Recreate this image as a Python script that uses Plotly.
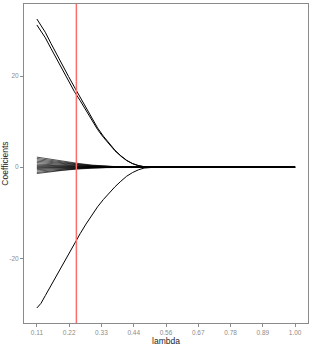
import plotly.graph_objects as go

# lambda grid for the three large coefficients
lam_big = [0.111, 0.125, 0.14, 0.16, 0.18, 0.20, 0.22, 0.24, 0.26, 0.28, 0.30,
           0.32, 0.34, 0.36, 0.38, 0.40, 0.42, 0.44, 0.46, 0.48, 0.50, 0.52, 1.0]
coef_a = [32.5, 31.2, 29.6, 27.1, 24.6, 22.3, 19.9, 17.6, 15.4, 13.1, 10.7,
          8.6, 6.8, 5.2, 3.7, 2.5, 1.5, 0.8, 0.35, 0.1, 0.02, 0.0, 0.0]
coef_b = [31.2, 29.8, 28.4, 26.0, 23.6, 21.3, 18.9, 16.6, 14.6, 12.5, 10.25,
          8.25, 6.55, 5.02, 3.58, 2.42, 1.45, 0.77, 0.34, 0.1, 0.02, 0.0, 0.0]
coef_c = [-30.9, -29.9, -28.2, -25.9, -23.6, -21.5, -19.2, -16.8, -14.6, -12.5, -10.5,
          -8.7, -7.1, -5.6, -4.3, -3.1, -2.0, -1.2, -0.6, -0.2, -0.03, 0.0, 0.0]

# lambda grid for the small coefficients
lam_small = [0.111, 0.15, 0.20, 0.25, 0.30, 0.35, 0.40, 0.45, 0.50, 1.0]
small_coefs = [
    [2.2, 1.8, 1.3, 0.85, 0.45, 0.18, 0.04, 0, 0, 0],
    [1.9, 1.55, 1.1, 0.72, 0.38, 0.15, 0.03, 0, 0, 0],
    [1.6, 1.3, 0.95, 0.6, 0.32, 0.12, 0.02, 0, 0, 0],
    [1.3, 1.05, 0.75, 0.48, 0.25, 0.1, 0.02, 0, 0, 0],
    [1.0, 0.8, 0.58, 0.37, 0.19, 0.07, 0.01, 0, 0, 0],
    [0.7, 0.56, 0.4, 0.26, 0.13, 0.05, 0.01, 0, 0, 0],
    [0.45, 0.36, 0.26, 0.17, 0.09, 0.03, 0, 0, 0, 0],
    [0.25, 0.2, 0.14, 0.09, 0.05, 0.02, 0, 0, 0, 0],
    [0.08, 0.06, 0.04, 0.03, 0.01, 0, 0, 0, 0, 0],
    [-0.1, -0.08, -0.05, -0.03, -0.02, 0, 0, 0, 0, 0],
    [-0.3, -0.23, -0.15, -0.09, -0.04, -0.01, 0, 0, 0, 0],
    [-0.55, -0.42, -0.28, -0.17, -0.08, -0.03, 0, 0, 0, 0],
    [-0.85, -0.65, -0.43, -0.26, -0.12, -0.04, 0, 0, 0, 0],
    [-1.15, -0.88, -0.58, -0.35, -0.17, -0.06, -0.01, 0, 0, 0],
    [-1.4, -1.07, -0.7, -0.42, -0.2, -0.07, -0.01, 0, 0, 0],
]

lambda_min = 0.247

x_tick_vals = [1/9, 2/9, 3/9, 4/9, 5/9, 6/9, 7/9, 8/9, 1.0]
x_tick_text = ["0.11", "0.22", "0.33", "0.44", "0.56", "0.67", "0.78", "0.89", "1.00"]
y_tick_vals = [-20, 0, 20]
y_tick_text = ["-20", "0", "20"]

fig = go.Figure()
for ys in small_coefs:
    fig.add_trace(go.Scatter(x=lam_small, y=ys, mode="lines",
                             line=dict(color="rgba(0,0,0,0.85)", width=0.8),
                             showlegend=False, hoverinfo="skip"))
for ys in (coef_a, coef_b, coef_c):
    fig.add_trace(go.Scatter(x=lam_big, y=ys, mode="lines",
                             line=dict(color="black", width=1),
                             showlegend=False, hoverinfo="skip"))

fig.add_vline(x=lambda_min, line=dict(color="#ff6e6e", width=1.5))

axis_common = dict(
    showgrid=False, zeroline=False, showline=True, linecolor="#8a8a8a", linewidth=1,
    mirror=True, ticks="outside", ticklen=3, tickcolor="#8a8a8a", tickwidth=1,
    automargin=False,
    tickfont=dict(size=6.5, color="#8c8c8c", family="Liberation Sans, Arial, sans-serif"),
)

fig.update_xaxes(range=[0.0667, 1.0444], tickvals=x_tick_vals, ticktext=x_tick_text,
                 title=dict(text="lambda", font=dict(size=8.5, color="#222222"), standoff=0),
                 **axis_common)
fig.update_yaxes(range=[-34.2, 35.8], tickvals=y_tick_vals, ticktext=y_tick_text,
                 title=dict(text="Coefficients", font=dict(size=8.5, color="#222222"), standoff=3),
                 **axis_common)

fig.update_layout(
    width=312, height=346, autosize=False,
    margin=dict(l=24, r=4, t=4, b=23),
    paper_bgcolor="white", plot_bgcolor="white",
    font=dict(family="Liberation Sans, Arial, sans-serif"),
)

fig.write_html("out.html", config={"displayModeBar": False},
               post_script="document.body.style.margin='0';")
